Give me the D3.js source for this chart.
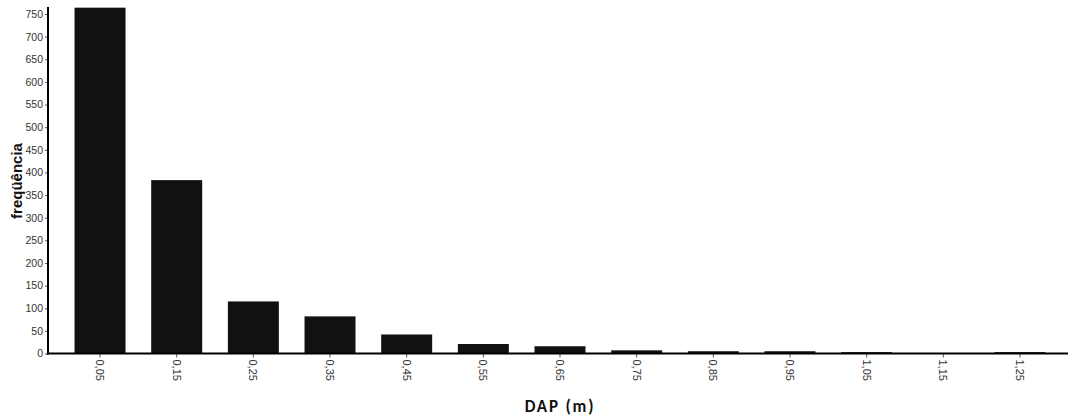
<!DOCTYPE html>
<html>
<head>
<meta charset="utf-8">
<script src="https://cdn.jsdelivr.net/npm/d3@7"></script>
<style>
  html, body { margin: 0; padding: 0; background: #fff; }
  svg { display: block; }
</style>
</head>
<body>
<svg id="chart" width="1070" height="418"></svg>
<script>
// DAP class midpoints (m) and tree counts per class
const categories = ["0,05", "0,15", "0,25", "0,35", "0,45", "0,55", "0,65", "0,75", "0,85", "0,95", "1,05", "1,15", "1,25"];
const counts = [764, 383, 115, 82, 42, 21, 16, 7, 5, 5, 3, 0, 3];
const yTicks = [0, 50, 100, 150, 200, 250, 300, 350, 400, 450, 500, 550, 600, 650, 700, 750];

const svg = d3.select("#chart");
const plotLeft = 48, plotBottom = 353.5, plotTop = 14;

const x = d3.scaleBand()
  .domain(categories)
  .range([61.7, 1058.3])
  .paddingInner(0.335)
  .paddingOuter(0.1675);

const y = d3.scaleLinear()
  .domain([0, 750])
  .range([plotBottom, plotTop]);

// bars
svg.append("g")
  .selectAll("rect")
  .data(categories.map((c, i) => ({ c, v: counts[i] })))
  .join("rect")
  .attr("x", d => x(d.c))
  .attr("width", x.bandwidth())
  .attr("y", d => y(d.v))
  .attr("height", d => plotBottom - y(d.v))
  .attr("fill", "#111");

// y axis
const yAxis = svg.append("g")
  .attr("transform", `translate(${plotLeft},0)`)
  .call(d3.axisLeft(y).tickValues(yTicks).tickSize(3).tickPadding(2));
yAxis.select(".domain").remove();
yAxis.selectAll(".tick line").attr("stroke", "#555");
yAxis.selectAll(".tick text")
  .attr("fill", "#333")
  .style("font-family", "Liberation Sans, Arial, sans-serif")
  .style("font-size", "10.5px");
svg.append("line")
  .attr("x1", plotLeft).attr("x2", plotLeft)
  .attr("y1", 7).attr("y2", plotBottom + 1)
  .attr("stroke", "#000").attr("stroke-width", 2);

// x axis
const xAxis = svg.append("g")
  .attr("transform", `translate(0,${plotBottom})`)
  .call(d3.axisBottom(x).tickSize(4).tickPadding(3));
xAxis.select(".domain").remove();
xAxis.selectAll(".tick line").attr("stroke", "#555");
xAxis.selectAll(".tick text")
  .attr("fill", "#333")
  .attr("transform", "rotate(90)")
  .attr("x", 6)
  .attr("y", 0)
  .attr("dy", "0.35em")
  .attr("text-anchor", "start")
  .style("font-family", "Liberation Sans, Arial, sans-serif")
  .style("font-size", "11px");
svg.append("line")
  .attr("x1", plotLeft - 1).attr("x2", 1068)
  .attr("y1", plotBottom).attr("y2", plotBottom)
  .attr("stroke", "#000").attr("stroke-width", 2);

// axis titles
svg.append("text")
  .attr("transform", "translate(22,181) rotate(-90)")
  .attr("text-anchor", "middle")
  .style("font-family", "Liberation Sans, Arial, sans-serif")
  .style("font-weight", "bold")
  .style("font-size", "15px")
  .attr("fill", "#111")
  .text("freqüência");

svg.append("text")
  .attr("x", 560)
  .attr("y", 412)
  .attr("text-anchor", "middle")
  .style("font-family", "Carlito, 'Open Sans', sans-serif")
  .style("font-weight", "bold")
  .style("font-size", "17px")
  .style("letter-spacing", "1.8px")
  .attr("fill", "#111")
  .text("DAP (m)");
</script>
</body>
</html>
